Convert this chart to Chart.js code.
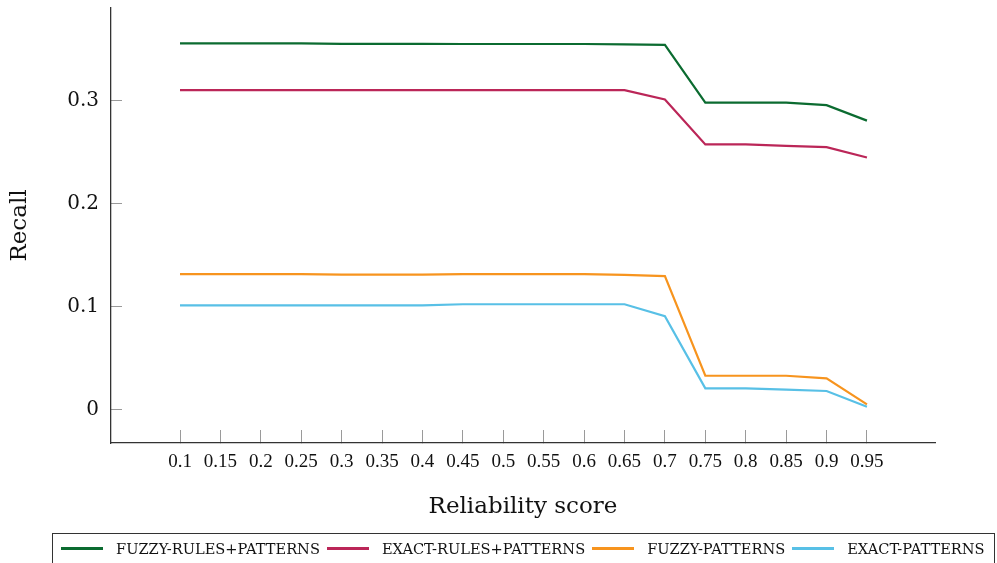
<!DOCTYPE html>
<html>
<head>
<meta charset="utf-8">
<script src="https://cdn.jsdelivr.net/npm/chart.js@4.4.1/dist/chart.umd.min.js"></script>
<style>
  html, body { margin: 0; padding: 0; background: #fff; }
  #wrap { width: 997px; height: 563px; position: relative; overflow: hidden; }
  #legend {
    position: absolute; left: 52px; top: 533px; width: 943px; height: 40px;
    border: 1.3px solid #333; box-sizing: border-box;
    display: flex; align-items: flex-start; padding: 6px 0 0 8px;
    font-family: 'DejaVu Serif'; font-size: 14.6px; color: #111; line-height: 17px;
  }
  #legend .item { display: flex; align-items: center; margin-right: 7px; white-space: nowrap; }
  #legend .swatch { width: 42px; height: 3px; margin-right: 13px; }
</style>
</head>
<body>
<div id="wrap"><canvas id="c"></canvas><div id="legend"></div></div>
<script>
// Reliability thresholds on the x axis
const reliability = [0.1, 0.15, 0.2, 0.25, 0.3, 0.35, 0.4, 0.45, 0.5, 0.55, 0.6, 0.65, 0.7, 0.75, 0.8, 0.85, 0.9, 0.95];
const xTickLabels = ['0.1', '0.15', '0.2', '0.25', '0.3', '0.35', '0.4', '0.45', '0.5', '0.55', '0.6', '0.65', '0.7', '0.75', '0.8', '0.85', '0.9', '0.95'];
const yTickValues = [0, 0.1, 0.2, 0.3];
const yTickLabels = ['0', '0.1', '0.2', '0.3'];

// Recall per method
const seriesNames = ['FUZZY-RULES+PATTERNS', 'EXACT-RULES+PATTERNS', 'FUZZY-PATTERNS', 'EXACT-PATTERNS'];
const fuzzyRulesPatterns = [0.3555, 0.3555, 0.3555, 0.3555, 0.355, 0.355, 0.355, 0.3548, 0.3548, 0.3548, 0.3548, 0.3545, 0.354, 0.298, 0.298, 0.298, 0.2955, 0.2805];
const exactRulesPatterns = [0.31, 0.31, 0.31, 0.31, 0.31, 0.31, 0.31, 0.31, 0.31, 0.31, 0.31, 0.31, 0.301, 0.2575, 0.2575, 0.256, 0.2548, 0.2448];
const fuzzyPatterns      = [0.1318, 0.1318, 0.1318, 0.1318, 0.1312, 0.1312, 0.1312, 0.1318, 0.1318, 0.1318, 0.1318, 0.131, 0.1297, 0.0332, 0.0332, 0.0332, 0.0307, 0.0055];
const exactPatterns      = [0.1015, 0.1015, 0.1015, 0.1015, 0.1015, 0.1015, 0.1015, 0.1025, 0.1025, 0.1025, 0.1025, 0.1025, 0.091, 0.021, 0.021, 0.0197, 0.0184, 0.0032];

const seriesColors = ['#0b6b30', '#bb2658', '#f7941e', '#58c0e6'];
const seriesValues = [fuzzyRulesPatterns, exactRulesPatterns, fuzzyPatterns, exactPatterns];

const datasets = seriesNames.map((name, i) => ({
  label: name,
  data: reliability.map((x, j) => ({ x: x, y: seriesValues[i][j] })),
  borderColor: seriesColors[i],
  backgroundColor: seriesColors[i],
  borderWidth: 2.2,
  pointRadius: 0,
  tension: 0,
  fill: false
}));

// Framed legend row under the plot
const legendEl = document.getElementById('legend');
seriesNames.forEach((name, i) => {
  const item = document.createElement('span');
  item.className = 'item';
  const sw = document.createElement('span');
  sw.className = 'swatch';
  sw.style.background = seriesColors[i];
  const txt = document.createElement('span');
  txt.textContent = name;
  item.appendChild(sw);
  item.appendChild(txt);
  legendEl.appendChild(item);
});

const TEXT = '#111111';
const TICK_GRAY = '#9a9a9a';
const AXIS = '#333333';

new Chart(document.getElementById('c'), {
  type: 'line',
  data: { datasets },
  options: {
    responsive: true,
    maintainAspectRatio: false,
    animation: false,
    devicePixelRatio: 1,
    layout: { padding: { top: 8, right: 62, left: 0, bottom: 40 } },
    plugins: {
      tooltip: { enabled: false },
      legend: { display: false }
    },
    scales: {
      x: {
        type: 'linear',
        min: 0.01462,
        max: 1.0342,
        afterBuildTicks(axis) { axis.ticks = reliability.map(v => ({ value: v })); },
        afterFit(axis) { axis.height = 80; axis.paddingLeft = 0; axis.paddingRight = 0; },
        ticks: {
          autoSkip: false,
          maxRotation: 0,
          padding: 21,
          color: TEXT,
          font: { family: 'Liberation Serif', size: 19 },
          callback: (v, i) => xTickLabels[i]
        },
        grid: { drawOnChartArea: false, drawTicks: true, tickLength: -13, color: TICK_GRAY, lineWidth: 1 },
        border: { display: true, color: AXIS, width: 1.3 },
        title: {
          display: true,
          text: 'Reliability score',
          color: TEXT,
          font: { family: 'DejaVu Serif', size: 23 },
          padding: { top: 2, bottom: 2 }
        }
      },
      y: {
        type: 'linear',
        min: -0.032,
        max: 0.3897,
        afterBuildTicks(axis) { axis.ticks = yTickValues.map(v => ({ value: v })); },
        afterFit(axis) { axis.width = 111; axis.paddingTop = 0; axis.paddingBottom = 0; },
        ticks: {
          padding: 23,
          color: TEXT,
          font: { family: 'DejaVu Serif', size: 20 },
          callback: (v, i) => yTickLabels[i]
        },
        grid: { drawOnChartArea: false, drawTicks: true, tickLength: -11, color: TICK_GRAY, lineWidth: 1 },
        border: { display: true, color: AXIS, width: 1.3 },
        title: {
          display: true,
          text: 'Recall',
          color: TEXT,
          font: { family: 'DejaVu Serif', size: 23 },
          padding: { top: 6, bottom: 0 }
        }
      }
    }
  }
});
</script>
</body>
</html>
